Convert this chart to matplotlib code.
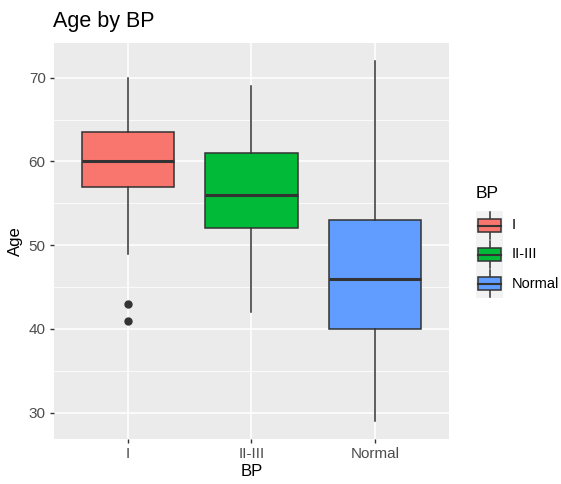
import numpy as np
import matplotlib.pyplot as plt
from matplotlib.patches import Rectangle

# box stats
groups = ['I', 'II-III', 'Normal']
whislo = [49, 42, 29]
q1 = [57, 52, 40]
med = [60, 56, 46]
q3 = [63.5, 61, 53]
whishi = [70, 69, 72]
fliers = [[43, 41], [], []]
colors = ['#F8766D', '#00BA38', '#619CFF']

W, H = 561, 484
fig = plt.figure(figsize=(W / 100, H / 100), dpi=100)
plt.rcParams['font.family'] = 'Liberation Sans'

ax = fig.add_axes([54 / W, 1 - 439 / H, (449 - 54) / W, (439 - 43) / H])
ax.set_facecolor('#EBEBEB')

stats = []
for i, g in enumerate(groups):
    stats.append(dict(label=g, whislo=whislo[i], q1=q1[i], med=med[i],
                      q3=q3[i], whishi=whishi[i], fliers=fliers[i]))

pos = np.arange(1, len(groups) + 1)
bp = ax.bxp(stats, positions=pos, widths=0.75, patch_artist=True, showcaps=False,
            boxprops=dict(edgecolor='#333333', linewidth=1.1),
            medianprops=dict(color='#333333', linewidth=2.2),
            whiskerprops=dict(color='#333333', linewidth=1.1),
            flierprops=dict(marker='o', markerfacecolor='#333333',
                            markeredgecolor='#333333', markersize=5))
for patch, c in zip(bp['boxes'], colors):
    patch.set_facecolor(c)
    patch.set_zorder(3)
for k in ['medians', 'whiskers', 'fliers']:
    for a in bp[k]:
        a.set_zorder(3)

ax.set_xlim(0.4, 3.6)
ax.set_ylim(26.85, 74.15)
ax.set_yticks([30, 40, 50, 60, 70])
ax.set_yticks([35, 45, 55, 65], minor=True)
ax.set_xticks(pos)
ax.set_xticklabels(groups)
ax.grid(True, which='major', color='white', linewidth=1.1, zorder=0)
ax.grid(True, which='minor', axis='y', color='white', linewidth=0.55, zorder=0)
ax.set_axisbelow(True)
for s in ax.spines.values():
    s.set_visible(False)
ax.tick_params(which='major', length=3, width=1, color='#333333',
               labelcolor='#4D4D4D', labelsize=11, pad=3)
ax.tick_params(which='minor', length=0)
ax.set_xlabel('BP', fontsize=12, labelpad=2)
ax.set_ylabel('Age', fontsize=12, labelpad=4)

fig.text(53 / W, 1 - 22 / H, 'Age by BP', fontsize=15.5, va='center', ha='left')

# legend drawn by hand, ggplot style
fig.text(476 / W, 1 - 193 / H, 'BP', fontsize=12.5, va='center', ha='left')
lg = fig.add_axes([476 / W, 1 - 298 / H, 27 / W, 87 / H])
lg.set_xlim(0, 1)
lg.set_ylim(0, 3)
lg.axis('off')
lg.add_patch(Rectangle((0, 0), 1, 3, facecolor='#F2F2F2', edgecolor='none'))
for i, (g, c) in enumerate(zip(groups, colors)):
    y0 = 2 - i
    lg.plot([0.5, 0.5], [y0 + 0.05, y0 + 0.95], color='#333333', lw=1.1)
    lg.add_patch(Rectangle((0.08, y0 + 0.27), 0.84, 0.46, facecolor=c,
                           edgecolor='#333333', lw=1.1, zorder=3))
    lg.plot([0.08, 0.92], [y0 + 0.5, y0 + 0.5], color='#333333', lw=1.5, zorder=4)
    fig.text(512 / W, 1 - (211 + 29 * i + 14.5) / H, g, fontsize=10.5,
             va='center', ha='left')

fig.savefig('out.png', dpi=100)
